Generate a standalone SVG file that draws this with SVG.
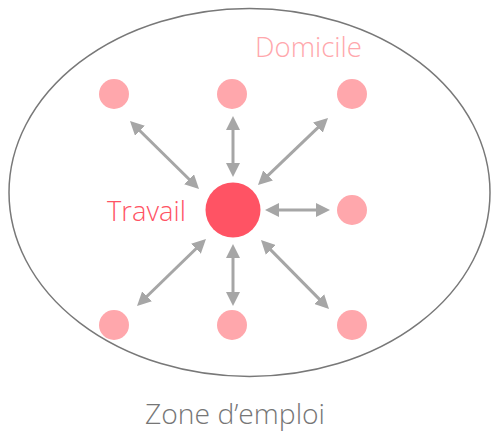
<svg xmlns="http://www.w3.org/2000/svg" width="491" height="431" viewBox="0 0 491 431">
<style>
.home{fill:#FFA7AC}
.work{fill:#FF5364}
.lbl{font-family:"Open Sans","Liberation Sans",sans-serif;font-weight:300}
.conn line{stroke:#A6A6A6;stroke-width:3;fill:none;marker-start:url(#ah);marker-end:url(#ah)}
</style>
<defs>
<marker id="ah" markerUnits="userSpaceOnUse" markerWidth="14" markerHeight="14" refX="4" refY="7" orient="auto-start-reverse">
<path d="M0,0 L14,7 L0,14 Z" fill="#A6A6A6"/>
</marker>
</defs>
<rect width="491" height="431" fill="#FFFFFF"/>
<g id="zone">
<ellipse cx="249.5" cy="192.5" rx="240.5" ry="184" fill="none" stroke="#787878" stroke-width="1.5"/>
<text class="lbl" x="145" y="424" font-size="27" fill="#767676" textLength="180" lengthAdjust="spacingAndGlyphs">Zone d’emploi</text>
</g>
<g id="domicile-label"><text class="lbl" x="255" y="57" font-size="27" fill="#FFA7AC" textLength="107" lengthAdjust="spacingAndGlyphs">Domicile</text></g>
<g id="travail">
<circle class="work" cx="233" cy="210" r="27.5"/>
<text class="lbl" x="107" y="221" font-size="28" fill="#FF5364" textLength="79" lengthAdjust="spacingAndGlyphs">Travail</text>
</g>
<g id="d1"><circle class="home" cx="114" cy="94" r="15"/></g>
<g id="d2"><circle class="home" cx="232" cy="94" r="15"/></g>
<g id="d3"><circle class="home" cx="352" cy="94" r="15"/></g>
<g id="d4"><circle class="home" cx="352" cy="210" r="15"/></g>
<g id="d5"><circle class="home" cx="114" cy="325" r="15"/></g>
<g id="d6"><circle class="home" cx="232" cy="325" r="15"/></g>
<g id="d7"><circle class="home" cx="352" cy="325" r="15"/></g>
<g id="connectors" class="conn">
<line x1="137.1" y1="128" x2="191.9" y2="182"/>
<line x1="233" y1="126" x2="233" y2="167"/>
<line x1="320.8" y1="124.9" x2="265.2" y2="178.1"/>
<line x1="275" y1="210" x2="320" y2="210"/>
<line x1="198.8" y1="246" x2="144.2" y2="299"/>
<line x1="233" y1="254" x2="233" y2="296"/>
<line x1="268" y1="247.1" x2="322" y2="301.9"/>
</g>
</svg>
